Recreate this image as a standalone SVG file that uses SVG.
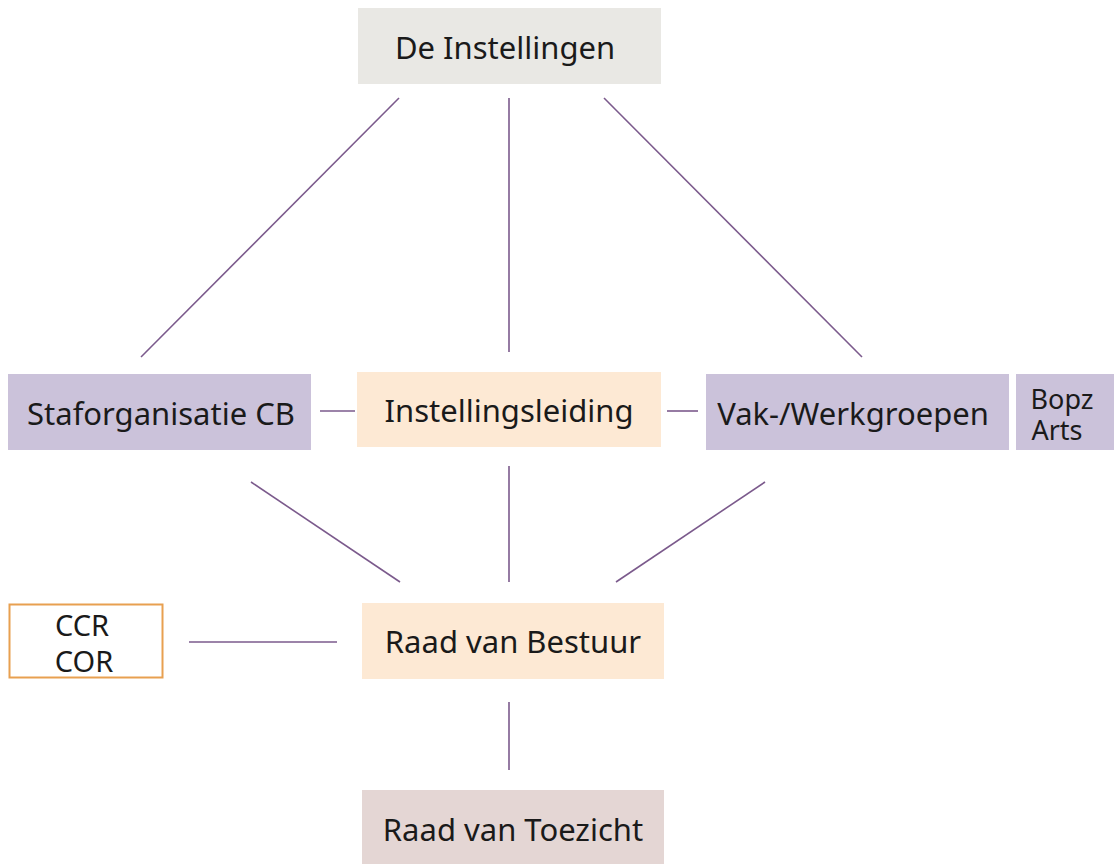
<svg xmlns="http://www.w3.org/2000/svg" width="1118" height="864" viewBox="0 0 1118 864">
<style>
text{font-family:"Noto Sans","Open Sans",sans-serif;font-size:31px;fill:#1a1a1a;text-anchor:middle}
.grey{fill:#e9e8e4}
.lilac{fill:#cbc2da}
.peach{fill:#fde9d4}
.rose{fill:#e4d6d4}
.conn line{stroke:#7b5a8c;stroke-width:1.6}
.small{font-size:27px}
.mid{font-size:29px}
</style>
<rect width="1118" height="864" fill="#ffffff"/>
<g class="conn">
<line x1="399" y1="98" x2="141" y2="357"/>
<line x1="509" y1="98" x2="509" y2="352"/>
<line x1="604" y1="98" x2="862" y2="357"/>
<line x1="320" y1="411" x2="355" y2="411"/>
<line x1="667" y1="411" x2="698" y2="411"/>
<line x1="251" y1="482" x2="400" y2="582"/>
<line x1="509" y1="466" x2="509" y2="582"/>
<line x1="765" y1="482" x2="616" y2="582"/>
<line x1="189" y1="642" x2="337" y2="642"/>
<line x1="509" y1="702" x2="509" y2="770"/>
</g>
<g id="de-instellingen"><rect class="grey" x="358" y="8" width="303" height="76"/><text x="505" y="59">De Instellingen</text></g>
<g id="staforganisatie"><rect class="lilac" x="8" y="374" width="303" height="76"/><text x="161" y="425">Staforganisatie CB</text></g>
<g id="instellingsleiding"><rect class="peach" x="357" y="372" width="304" height="75"/><text x="509" y="422">Instellingsleiding</text></g>
<g id="werkgroepen"><rect class="lilac" x="706" y="374" width="303" height="76"/><text x="853" y="425">Vak-/Werkgroepen</text></g>
<g id="bopz"><rect class="lilac" x="1016" y="374" width="98" height="76"/><text class="small" x="1062" y="409">Bopz</text><text class="small" x="1057" y="440">Arts</text></g>
<g id="ccr-cor"><rect x="9.5" y="604.5" width="153" height="73" fill="#ffffff" stroke="#e8a050" stroke-width="2"/><text class="mid" x="82" y="636">CCR</text><text class="mid" x="84" y="672">COR</text></g>
<g id="raad-bestuur"><rect class="peach" x="362" y="603" width="302" height="76"/><text x="513" y="653">Raad van Bestuur</text></g>
<g id="raad-toezicht"><rect class="rose" x="362" y="790" width="302" height="80"/><text x="513" y="841">Raad van Toezicht</text></g>
</svg>
